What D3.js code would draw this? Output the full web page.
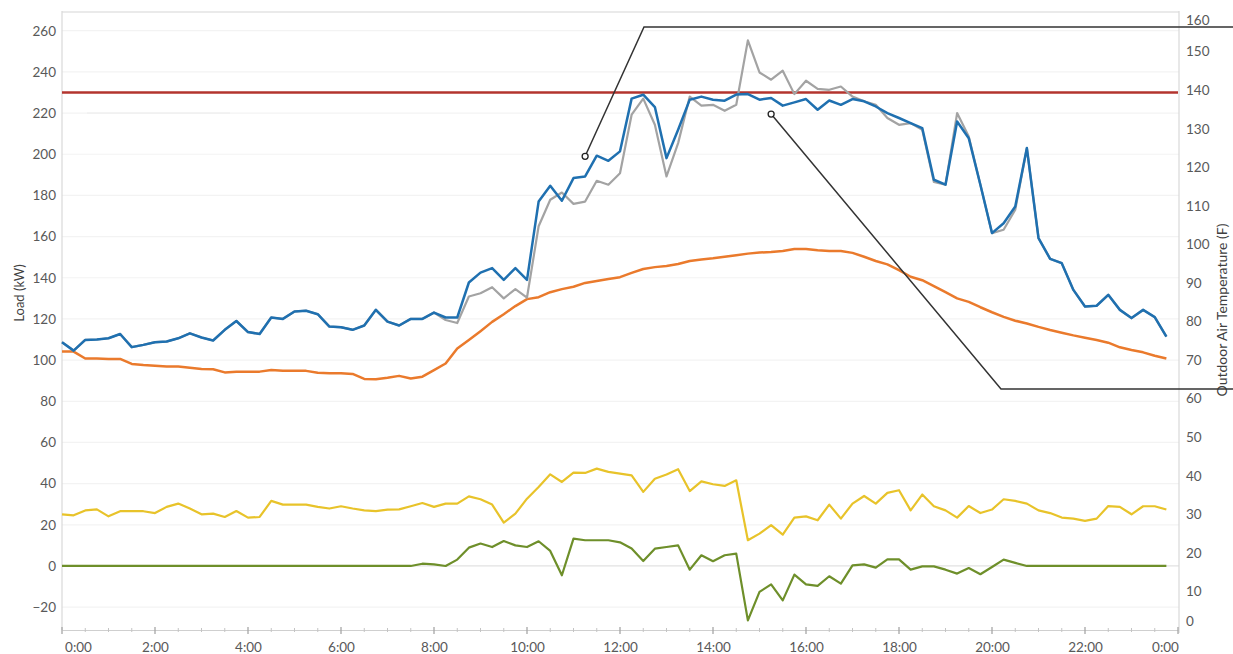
<!DOCTYPE html>
<html><head><meta charset="utf-8">
<script src="https://cdn.jsdelivr.net/npm/d3@7"></script>
<style>
html,body{margin:0;padding:0;background:#fff;}
svg{display:block;font-family:Lato,"Open Sans",sans-serif;}
</style></head>
<body><svg id="c" width="1233" height="654"></svg>
<script>
// ---- data (15-minute intervals, 0:00 .. 23:45) ----
const loadBlue = [108.7,104.6,109.8,110.0,110.6,112.7,106.3,107.4,108.7,109.0,110.6,113.0,111.0,109.5,114.7,119.0,
113.6,112.7,120.7,120.0,123.6,124.0,122.3,116.3,116.0,114.7,116.8,124.4,118.7,116.8,120.0,120.0,
123.1,120.7,120.7,137.7,142.5,144.7,139.0,144.7,139.0,177.0,184.7,177.4,188.4,189.2,199.3,196.8,
201.4,227.0,228.9,222.9,198.1,211.9,226.5,228.0,226.5,226.0,229.0,229.2,226.5,227.3,223.6,225.2,
226.8,221.6,226.1,224.0,226.8,225.7,223.2,220.0,217.6,215.1,212.7,187.6,185.2,215.9,207.8,185.2,
161.7,166.5,174.6,203.0,159.3,149.2,147.1,134.1,126.0,126.4,131.7,124.4,120.4,124.4,120.9,111.4];

const loadGray = [108.7,104.6,109.8,110.0,110.6,112.7,106.3,107.4,108.7,109.0,110.6,113.0,111.0,109.5,114.7,119.0,
113.6,112.7,120.7,120.0,123.6,124.0,122.3,116.3,116.0,114.7,116.8,124.4,118.7,116.8,120.0,120.0,
123.1,119.5,118.0,130.9,132.5,135.4,130.0,134.5,130.4,165.0,177.9,181.4,175.9,177.0,187.1,185.2,
190.8,219.2,227.0,214.3,189.2,205.4,228.0,223.6,224.0,221.1,224.0,255.3,239.7,236.2,240.6,229.2,
235.7,231.7,231.3,232.9,228.0,225.7,224.0,217.6,214.3,215.1,211.9,186.5,185.2,220.0,208.6,185.2,
161.7,163.3,173.0,203.0,159.3,149.2,147.1,134.1,126.0,126.4,131.7,124.4,120.4,124.4,120.9,111.4];

const outdoorTemp = [72.2,72.2,70.4,70.4,70.3,70.3,69.0,68.7,68.5,68.3,68.3,68.0,67.7,67.6,66.8,67.0,
67.0,67.0,67.4,67.2,67.2,67.2,66.7,66.6,66.6,66.4,65.1,65.0,65.4,65.9,65.2,65.7,
67.4,69.1,73.0,75.2,77.5,79.9,81.9,84.0,85.8,86.3,87.6,88.4,89.0,90.0,90.5,91.0,
91.5,92.6,93.6,94.1,94.4,94.9,95.7,96.1,96.4,96.8,97.2,97.6,97.9,98.0,98.3,98.8,
98.8,98.5,98.3,98.3,97.8,96.8,95.7,94.8,93.3,91.6,90.7,89.2,87.6,86.0,85.1,83.7,
82.4,81.2,80.2,79.5,78.6,77.8,77.1,76.4,75.8,75.2,74.5,73.3,72.6,72.0,71.1,70.4];

const loadYellow = [25.1,24.6,27.0,27.5,24.1,26.6,26.6,26.6,25.7,28.7,30.3,27.9,25.1,25.4,23.8,26.7,
23.5,23.8,31.6,29.8,29.8,29.8,28.7,27.9,29.0,27.9,27.0,26.6,27.4,27.5,29.0,30.6,
28.7,30.3,30.3,33.8,32.4,29.8,21.1,25.4,32.7,38.4,44.5,40.8,45.3,45.2,47.3,45.7,
44.9,44.0,36.0,42.4,44.4,47.0,36.4,41.1,39.7,38.9,41.6,12.5,15.7,19.8,15.2,23.5,
24.1,22.2,29.8,23.0,30.3,34.0,30.3,35.5,36.8,27.0,34.7,29.0,27.0,23.5,29.1,25.7,
27.4,32.4,31.6,30.3,27.0,25.7,23.5,23.0,21.9,23.0,29.1,28.7,25.1,29.0,29.0,27.4];

const loadGreen = [0,0,0,0,0,0,0,0,0,0,0,0,0,0,0,0,
0,0,0,0,0,0,0,0,0,0,0,0,0,0,0,1.1,
0.8,0,3.1,8.9,10.9,9.2,12.1,10.0,9.2,12.0,7.3,-4.5,13.3,12.5,12.5,12.5,
11.5,8.5,2.4,8.4,9.2,10.0,-1.8,5.2,2.3,5.2,6.0,-26.4,-12.6,-8.9,-16.7,-4.2,
-8.9,-9.7,-5.0,-8.6,0.3,0.8,-0.8,3.2,3.2,-1.8,-0.2,-0.2,-1.8,-3.7,-1.0,-4.0,
-0.5,3.1,1.5,0,0,0,0,0,0,0,0,0,0,0,0,0];

const limitLoad = 230;
const stepMinutes = 15;
const leftTicks = [-20,0,20,40,60,80,100,120,140,160,180,200,220,240,260];
const rightTicks = [0,10,20,30,40,50,60,70,80,90,100,110,120,130,140,150,160];
const xTickLabels = ["0:00","2:00","4:00","6:00","8:00","10:00","12:00","14:00","16:00","18:00","20:00","22:00","0:00"];
const leftTitle = "Load (kW)";
const rightTitle = "Outdoor Air Temperature (F)";
// callout anchor points (time in minutes, value in kW)
const callouts = [{t:11*60+15, v:199}, {t:15*60+15, v:219.5}];

// ---- layout ----
const svg = d3.select("#c");
const X0 = 62, X1 = 1178, YT = 13, YB = 630;
const x = d3.scaleLinear().domain([0, 1440]).range([X0, X1]);
const yL = d3.scaleLinear().domain([-31.1, 268.6]).range([YB, YT]);
const yR = d3.scaleLinear().domain([0, 160]).range([YB, YT]);
const gray = "#595959";

// gridlines
svg.append("g").selectAll("line").data(leftTicks).join("line")
  .attr("x1", X0).attr("x2", X1 + 1)
  .attr("y1", d => yL(d)).attr("y2", d => yL(d))
  .attr("stroke", d => d === 0 ? "#e2e2e2" : "#f3f3f3").attr("stroke-width", 1.2);
// top border
svg.append("line").attr("x1", X0).attr("x2", X1 + 1).attr("y1", YT - 1).attr("y2", YT - 1)
  .attr("stroke", "#e3e3e3").attr("stroke-width", 1.5);
// faint remnant line
svg.append("line").attr("x1", 87).attr("x2", 230).attr("y1", 113).attr("y2", 113)
  .attr("stroke", "#ececec").attr("stroke-width", 1);

// axes lines
svg.append("line").attr("x1", X0).attr("x2", X0).attr("y1", YT - 2).attr("y2", YB)
  .attr("stroke", "#d9d9d9").attr("stroke-width", 1.2);
svg.append("line").attr("x1", X1 + 1).attr("x2", X1 + 1).attr("y1", YT - 2).attr("y2", YB + 3)
  .attr("stroke", "#d9d9d9").attr("stroke-width", 1.2);

// left axis
const gL = svg.append("g").attr("transform", `translate(${X0},0)`)
  .call(d3.axisLeft(yL).tickValues(leftTicks).tickSize(0).tickPadding(6));
gL.select(".domain").remove();
gL.selectAll("text").attr("fill", gray).style("font-size", "13.5px").style("font-family", "Lato, sans-serif");

// right axis
const gR = svg.append("g").attr("transform", `translate(${X1 + 1},0)`)
  .call(d3.axisRight(yR).tickValues(rightTicks).tickSize(0).tickPadding(7));
gR.select(".domain").remove();
gR.selectAll("text").attr("fill", gray).style("font-size", "13.5px").style("font-family", "Lato, sans-serif")
  .attr("dy", d => d === 0 ? "-0.35em" : (d === 160 ? "0.85em" : "0.32em"));

// bottom axis
const majors = xTickLabels.map((_, i) => i * 120);
const minors = d3.range(0, 1441, 30).filter(m => m % 120 !== 0);
const gB = svg.append("g").attr("transform", `translate(0,${YB})`)
  .call(d3.axisBottom(x).tickValues(majors).tickFormat((d, i) => xTickLabels[i]).tickSize(0).tickPadding(12));
gB.select(".domain").attr("stroke", "#cfcfcf").attr("stroke-width", 1.2);
gB.selectAll("text").attr("fill", gray).style("font-size", "13.5px").style("font-family", "Lato, sans-serif")
  .attr("dx", (d, i) => i === 0 ? 16 : (i === xTickLabels.length - 1 ? -13 : 0));
svg.append("g").selectAll("line").data(majors).join("line")
  .attr("x1", d => x(d)).attr("x2", d => x(d)).attr("y1", YB - 3).attr("y2", YB + 4)
  .attr("stroke", "#a6a6a6").attr("stroke-width", 1.3);
svg.append("g").selectAll("line").data(minors).join("line")
  .attr("x1", d => x(d)).attr("x2", d => x(d)).attr("y1", YB - 2).attr("y2", YB + 2)
  .attr("stroke", "#c4c4c4").attr("stroke-width", 1);

// axis titles
svg.append("text").attr("transform", "translate(24,293) rotate(-90)")
  .attr("text-anchor", "middle").attr("fill", "#404040")
  .style("font-size", "13px").style("font-family", "Lato, sans-serif").text(leftTitle);
svg.append("text").attr("transform", "translate(1227,310) rotate(-90)")
  .attr("text-anchor", "middle").attr("fill", "#404040")
  .style("font-size", "14px").style("font-family", "Lato, sans-serif").text(rightTitle);

// series
const tOf = i => i * stepMinutes;
const lineL = d3.line().x((d, i) => x(tOf(i))).y(d => yL(d));
const lineR = d3.line().x((d, i) => x(tOf(i))).y(d => yR(d));
function draw(data, gen, color, w) {
  svg.append("path").datum(data).attr("d", gen).attr("fill", "none")
    .attr("stroke", color).attr("stroke-width", w).attr("stroke-linejoin", "round");
}
draw(loadGreen, lineL, "#6e8f2a", 2.2);
draw(loadYellow, lineL, "#e8c32a", 2.2);
draw(outdoorTemp, lineR, "#ea7a2c", 2.5);
// limit line
svg.append("line").attr("x1", X0).attr("x2", X1).attr("y1", yL(limitLoad)).attr("y2", yL(limitLoad))
  .attr("stroke", "#b3342e").attr("stroke-width", 2.6);
draw(loadGray, lineL, "#a3a3a3", 2.2);
draw(loadBlue, lineL, "#1f70b0", 2.5);

// callouts
const c1 = callouts[0], c2 = callouts[1];
const p1 = [x(c1.t), yL(c1.v)], p2 = [x(c2.t), yL(c2.v)];
svg.append("path")
  .attr("d", `M${p1[0]},${p1[1]} L644,27 L1233,27`)
  .attr("fill", "none").attr("stroke", "#333").attr("stroke-width", 1.5);
svg.append("path")
  .attr("d", `M${p2[0]},${p2[1]} L1001,389 L1233,389`)
  .attr("fill", "none").attr("stroke", "#333").attr("stroke-width", 1.5);
[p1, p2].forEach(p => svg.append("circle").attr("cx", p[0]).attr("cy", p[1]).attr("r", 3)
  .attr("fill", "#fff").attr("stroke", "#222").attr("stroke-width", 1.3));
</script></body></html>
